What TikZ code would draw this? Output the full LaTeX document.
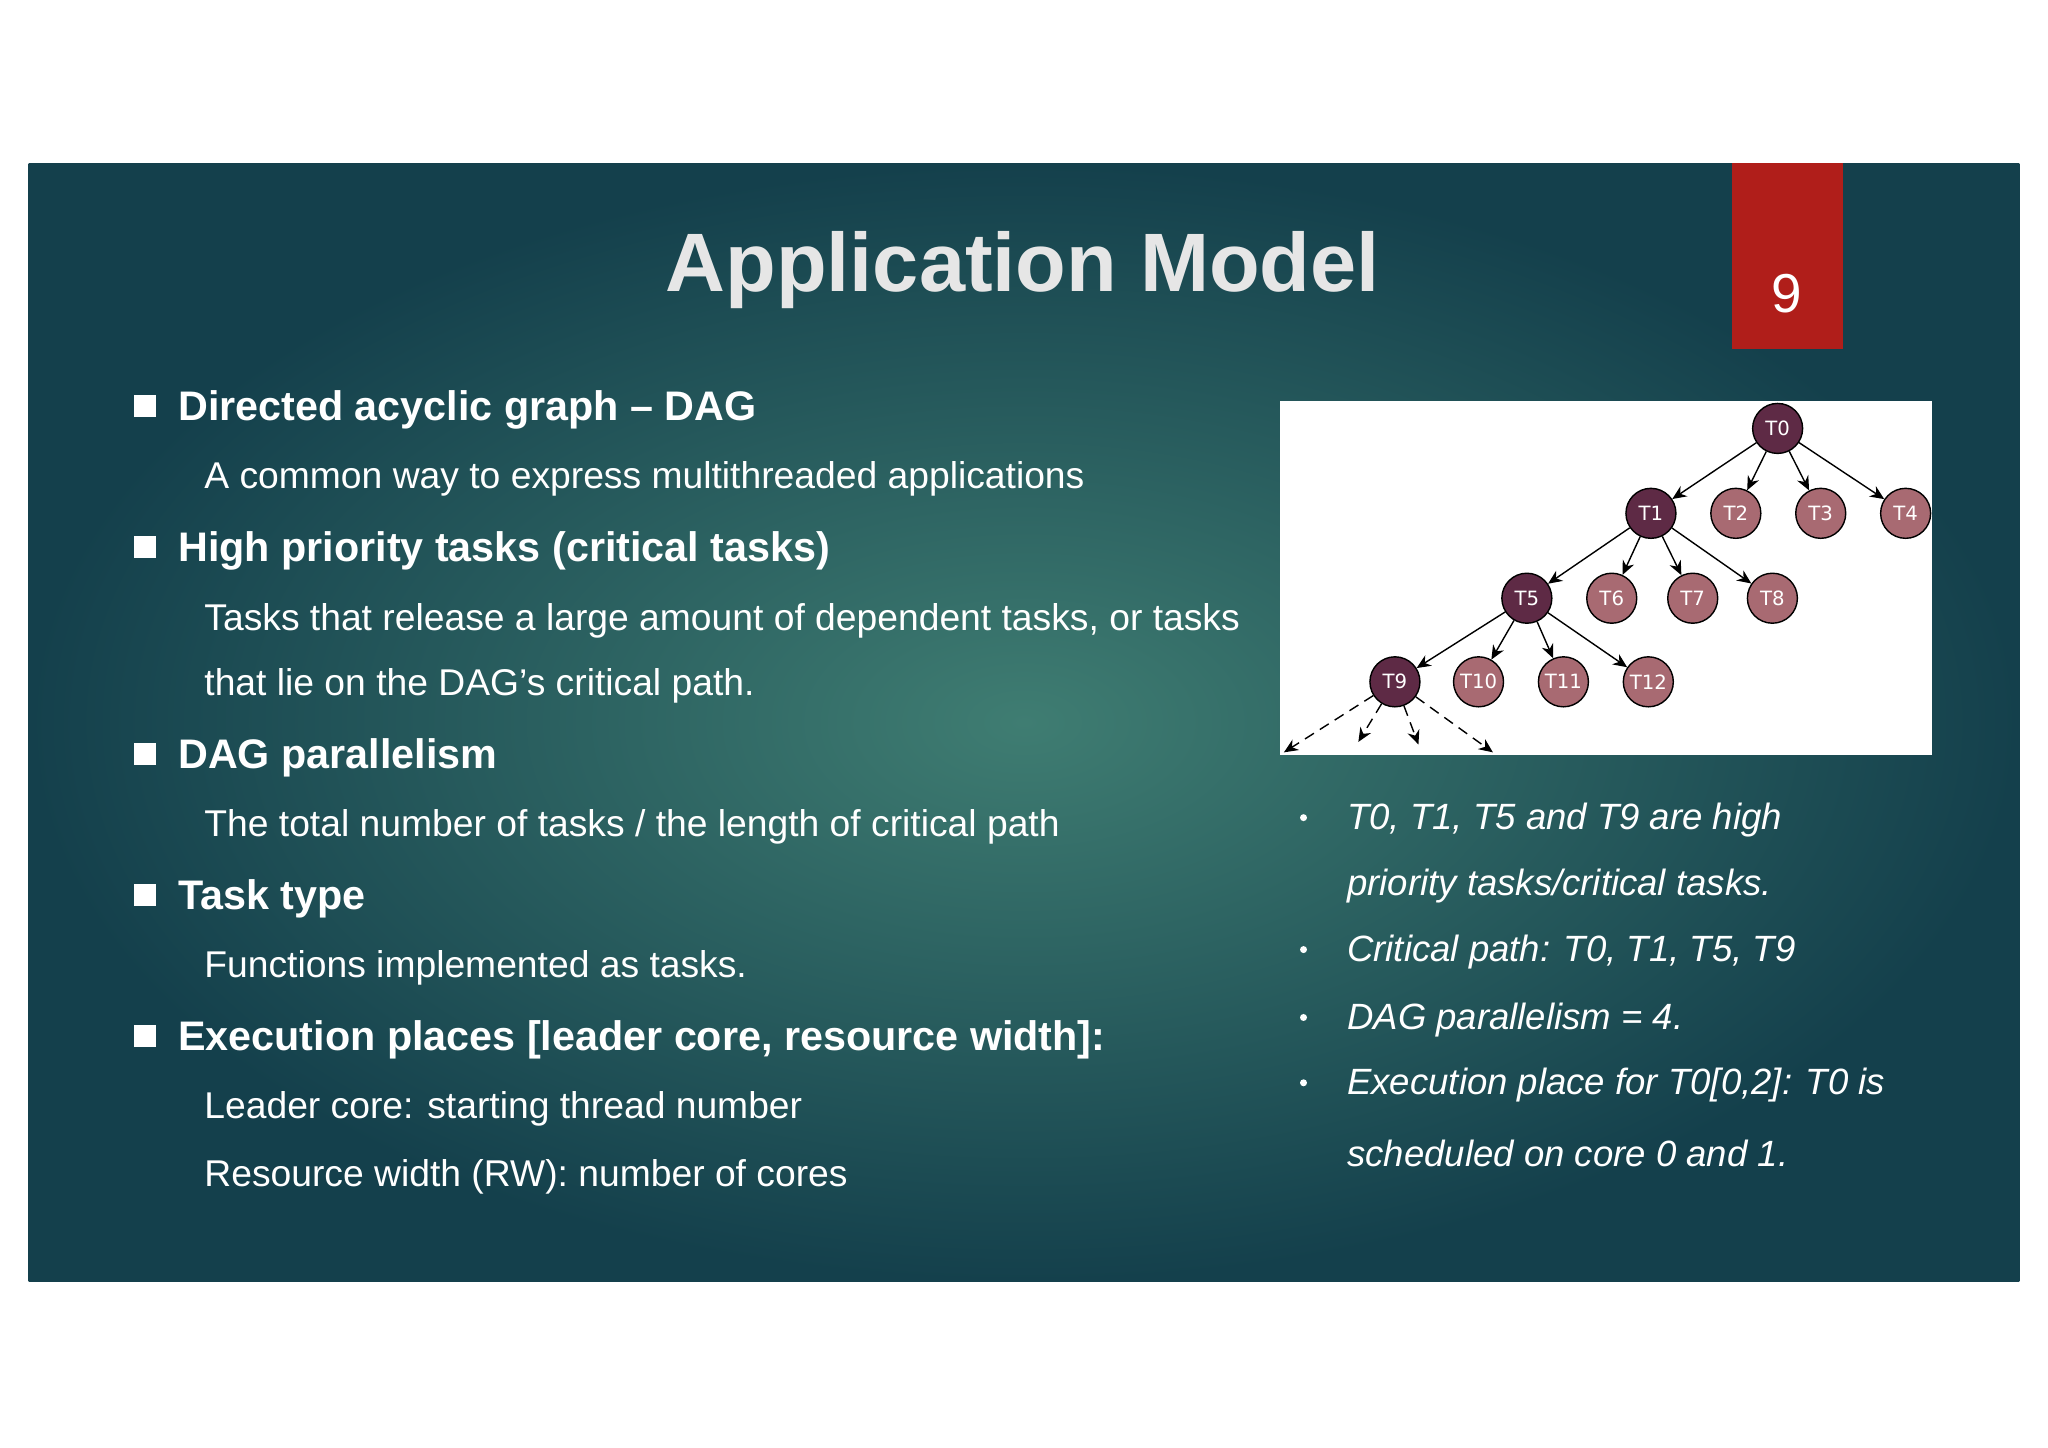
\documentclass[tikz,border=0pt]{standalone}
\usepackage{fontspec}
\setmainfont{Liberation Sans}
\newfontfamily\graphfont{DejaVu Sans}
\usetikzlibrary{arrows.meta, positioning}
\definecolor{slideedge}{HTML}{14404C}
\definecolor{slidemid}{HTML}{3F7D72}
\definecolor{tabred}{HTML}{B01E1A}
\definecolor{critfill}{HTML}{5E2A45}
\definecolor{taskfill}{HTML}{A86A72}
\definecolor{titlegray}{HTML}{E6E6E6}

\begin{document}
\begin{tikzpicture}[x=0.01306cm, y=-0.01306cm,
  every node/.style={align=left},
  % Slide headings and text
  head/.style={anchor=west, font=\fontsize{11.75}{14}\selectfont\bfseries, text=white},
  sub/.style={anchor=west, font=\fontsize{10.6}{13}\selectfont, text=white},
  note/.style={anchor=west, font=\fontsize{10.4}{13}\selectfont\itshape, text=white},
  sqbullet/.style={fill=white, minimum size=0.22cm, inner sep=0pt},
  dotbullet/.style={circle, fill=white, minimum size=0.07cm, inner sep=0pt},
  % DAG nodes
  crit/.style={circle, draw=black, fill=critfill, minimum size=0.5cm, inner sep=0pt, font=\graphfont\fontsize{5.6}{6}\selectfont, text=white},
  task/.style={crit, fill=taskfill},
  dep/.style={-{Stealth[length=4pt,width=3.5pt]}, thin},
  future/.style={dep, densely dashed}
]
\useasboundingbox (0,0) rectangle (1568,1108);
\fill[white] (0,0) rectangle (1568,1108);

% === Slide background ===
\shade[inner color=slidemid, outer color=slideedge] (22,125) rectangle (1546,981);
\fill[tabred] (1326,125) rectangle (1411,267);
\node[font=\fontsize{15.6}{18}\selectfont, text=white] (num) at (1368,225) {9};
\node[font=\fontsize{23.6}{28}\selectfont\bfseries, text=titlegray] (title) at (783,207) {Application Model};

% === Left column ===
\foreach \y/\t [count=\i] in {314/Directed acyclic graph -- DAG, 422/High priority tasks (critical tasks), 580/DAG parallelism, 688/Task type, 796/{Execution places [leader core, resource width]:}}{
  \node[sqbullet] (sq\i) at (111,\y-3) {};
  \node[head] (h\i) at (127,\y) {\t};
}
\node[sub] (s1) at (147,367) {A common way to express multithreaded applications};
\node[sub] (s2) at (147,475) {Tasks that release a large amount of dependent tasks, or tasks};
\node[sub] (s3) at (147,525) {that lie on the DAG’s critical path.};
\node[sub] (s4) at (147,633) {The total number of tasks / the length of critical path};
\node[sub] (s5) at (147,741) {Functions implemented as tasks.};
\node[sub] (s6) at (147,849) {Leader core: starting thread number};
\node[sub] (s7) at (147,901) {Resource width (RW): number of cores};

% === DAG ===
\fill[white] (980,307) rectangle (1479,578);
\node[crit] (t0) at (1361,328) {T0};
\node[crit] (t1) at (1264,393) {T1};
\node[task] (t2) at (1329,393) {T2};
\node[task] (t3) at (1394,393) {T3};
\node[task] (t4) at (1459,393) {T4};
\node[crit] (t5) at (1169,458) {T5};
\node[task] (t6) at (1234,458) {T6};
\node[task] (t7) at (1296,458) {T7};
\node[task] (t8) at (1357,458) {T8};
\node[crit] (t9) at (1068,522) {T9};
\node[task] (t10) at (1132,522) {T10};
\node[task] (t11) at (1197,522) {T11};
\node[task] (t12) at (1262,522) {T12};
\coordinate (f1) at (983,576);
\coordinate (f2) at (1040,568);
\coordinate (f3) at (1086,570);
\coordinate (f4) at (1143,576);
\foreach \a/\b in {t0/t1, t0/t2, t0/t3, t0/t4, t1/t5, t1/t6, t1/t7, t1/t8, t5/t9, t5/t10, t5/t11, t5/t12}
  \draw[dep] (\a) -- (\b);
\foreach \b in {f1, f2, f3, f4}
  \draw[future] (t9) -- (\b);

% === Right notes ===
\foreach \y [count=\i] in {628, 729, 781, 831}
  \node[dotbullet] (d\i) at (998,\y-2) {};
\node[note] (n1) at (1022,628) {T0, T1, T5 and T9 are high};
\node[note] (n2) at (1022,678) {priority tasks/critical tasks.};
\node[note] (n3) at (1022,729) {Critical path: T0, T1, T5, T9};
\node[note] (n4) at (1022,781) {DAG parallelism = 4.};
\node[note] (n5) at (1022,831) {Execution place for T0[0,2]: T0 is};
\node[note] (n6) at (1022,883) {scheduled on core 0 and 1.};

\end{tikzpicture}
\end{document}
